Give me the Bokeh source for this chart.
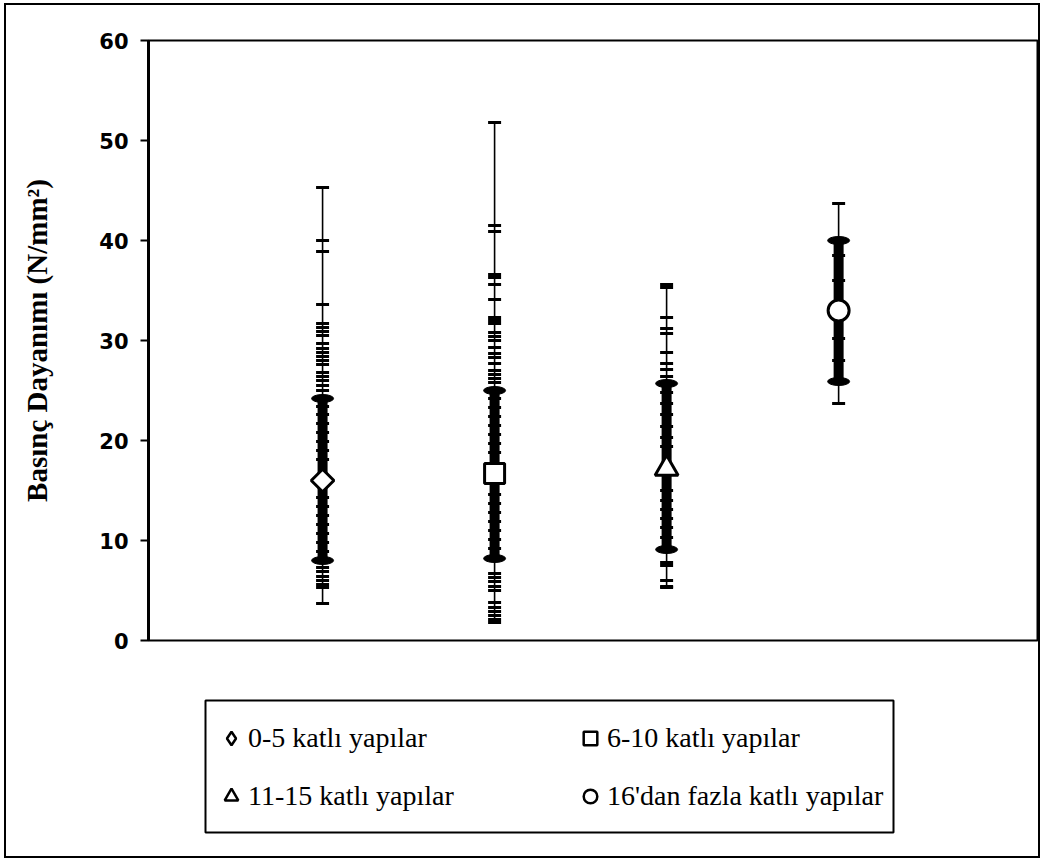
import math
from bokeh.plotting import figure
from bokeh.layouts import column
from bokeh.models import Legend, LegendItem, Range1d, FixedTicker, BoxAnnotation
from bokeh.embed import file_html
from bokeh.resources import INLINE

# ---- data ----
groups = [1, 2, 3, 4]
labels = ["0-5 katlı yapılar", "6-10 katlı yapılar",
          "11-15 katlı yapılar", "16'dan fazla katlı yapılar"]
means = [16.0, 16.7, 17.2, 33.0]
band_lo = [8.0, 8.2, 9.1, 25.9]
band_hi = [24.2, 25.0, 25.7, 40.0]
mins = [3.7, 1.8, 5.3, 23.7]
maxs = [45.3, 51.8, 35.6, 43.7]

g1_values = [40.0, 38.9, 33.6, 31.7, 31.3, 30.9, 30.5, 29.7, 29.2, 28.8, 28.4,
             28.0, 27.6, 26.8, 26.4, 26.0, 25.5, 25.0, 23.4, 22.6, 21.7, 20.8,
             19.9, 19.0, 18.1, 14.3, 13.4, 12.5, 11.6, 10.7, 9.8, 8.9,
             7.3, 6.9, 6.4, 6.0, 5.6, 5.3]
g2_values = [41.5, 40.9, 36.6, 36.3, 35.6, 34.1, 32.3, 32.0, 31.7, 30.8, 30.4,
             30.0, 29.3, 28.7, 28.3, 27.7, 27.0, 26.6, 26.2, 25.8, 24.2, 23.3,
             22.4, 21.5, 20.6, 19.7, 18.8, 14.6, 13.7, 12.8, 11.9, 11.0, 10.1,
             9.2, 6.7, 6.3, 5.9, 5.4, 5.0, 3.8, 3.3, 2.9, 2.5, 2.1]
g3_values = [35.3, 32.3, 31.2, 30.7, 28.8, 27.7, 27.1, 26.4, 24.8, 23.7, 22.6,
             21.4, 20.3, 19.4, 15.0, 14.0, 13.1, 12.2, 11.3, 10.3, 7.8, 7.5,
             6.0, 5.4]
g4_values = [38.5, 36.0, 30.2, 28.0]
point_values = [g1_values, g2_values, g3_values, g4_values]
markers = ["square", "square", "triangle", "circle"]
marker_angles = [math.pi / 4, 0, 0, 0]
marker_sizes = [16, 20, 23, 21]
legend_markers = ["diamond", "square", "triangle", "circle"]
y_ticks = [0, 10, 20, 30, 40, 50, 60]

W = 1032
H_MAIN, H_LEG = 657, 194

# ---------------- main chart ----------------
p = figure(width=W, height=H_MAIN, output_backend="svg", toolbar_location=None,
           x_range=Range1d(-0.012, 5.162), y_range=Range1d(0, 60),
           min_border_left=142, min_border_right=0, min_border_top=35,
           min_border_bottom=22)
p.background_fill_color = "white"
p.border_fill_color = "white"
p.outline_line_color = "black"
p.outline_line_width = 2
p.xgrid.visible = False
p.ygrid.visible = False
p.xaxis.visible = False

ax = p.yaxis[0]
ax.ticker = FixedTicker(ticks=y_ticks)
ax.minor_tick_line_color = None
ax.major_tick_in = 0
ax.major_tick_out = 8
ax.major_tick_line_width = 2
ax.axis_line_width = 3
ax.major_label_standoff = 12
ax.major_label_text_font = "DejaVu Sans"
ax.major_label_text_font_style = "bold"
ax.major_label_text_font_size = "21px"
ax.major_label_text_color = "black"
ax.axis_label = "Basınç Dayanımı (N/mm²)"
ax.axis_label_text_font = "Liberation Serif"
ax.axis_label_text_font_style = "bold"
ax.axis_label_text_font_size = "29px"
ax.axis_label_text_color = "black"
ax.axis_label_standoff = 43

# thin min-max lines
p.segment(x0=groups, y0=mins, x1=groups, y1=maxs, line_color="black", line_width=1.6)
# min / max caps
p.scatter(x=groups, y=mins, marker="dash", size=13, line_width=3, line_color="black")
p.scatter(x=groups, y=maxs, marker="dash", size=13, line_width=3, line_color="black")
# individual observations
for g, vals in zip(groups, point_values):
    p.scatter(x=[g] * len(vals), y=vals, marker="dash", size=13, line_width=3,
              line_color="black")
# thick band
p.segment(x0=groups, y0=band_lo, x1=groups, y1=band_hi, line_color="black", line_width=10)
p.ellipse(x=groups, y=band_lo, width=22, height=8, width_units="screen",
          height_units="screen", fill_color="black", line_color="black")
p.ellipse(x=groups, y=band_hi, width=22, height=8, width_units="screen",
          height_units="screen", fill_color="black", line_color="black")
# mean markers
for i in range(4):
    p.scatter(x=[groups[i]], y=[means[i]], marker=markers[i], size=marker_sizes[i],
              angle=marker_angles[i], fill_color="white", line_color="black",
              line_width=3)

# ---------------- legend panel ----------------
q = figure(width=W, height=H_LEG, output_backend="svg", toolbar_location=None,
           x_range=Range1d(0, 5), y_range=Range1d(0, 1),
           min_border_left=0, min_border_right=0, min_border_top=0,
           min_border_bottom=0)
q.axis.visible = False
q.grid.visible = False
q.outline_line_color = None
q.background_fill_color = "white"
q.border_fill_color = "white"

q.add_layout(BoxAnnotation(left=57, right=745, bottom=24, top=156,
                           left_units="screen", right_units="screen",
                           bottom_units="screen", top_units="screen",
                           fill_color="white", fill_alpha=1.0,
                           line_color="black", line_alpha=1.0, line_width=2))

items = []
for i in range(4):
    # legend glyphs: mean points, which lie outside this panel's visible range
    r = q.scatter(x=[groups[i]], y=[means[i]], marker=legend_markers[i], size=14,
                  fill_color="white", line_color="black", line_width=2.5)
    items.append(LegendItem(label=labels[i], renderers=[r]))

legend = Legend(items=items, location=(66, 32), orientation="horizontal", ncols=2,
                label_text_font="Liberation Serif", label_text_font_size="28px",
                label_text_color="black", glyph_width=34, glyph_height=34,
                label_standoff=0, label_width=323, label_height=56, spacing=2,
                padding=0, margin=0, border_line_color=None,
                background_fill_alpha=0.0, inactive_fill_alpha=0.0)
q.add_layout(legend)

layout = column(p, q, spacing=0,
                styles={"border": "2px solid black", "margin-left": "4px",
                        "margin-top": "3px"})

open("out.html", "w").write(file_html(layout, INLINE))
